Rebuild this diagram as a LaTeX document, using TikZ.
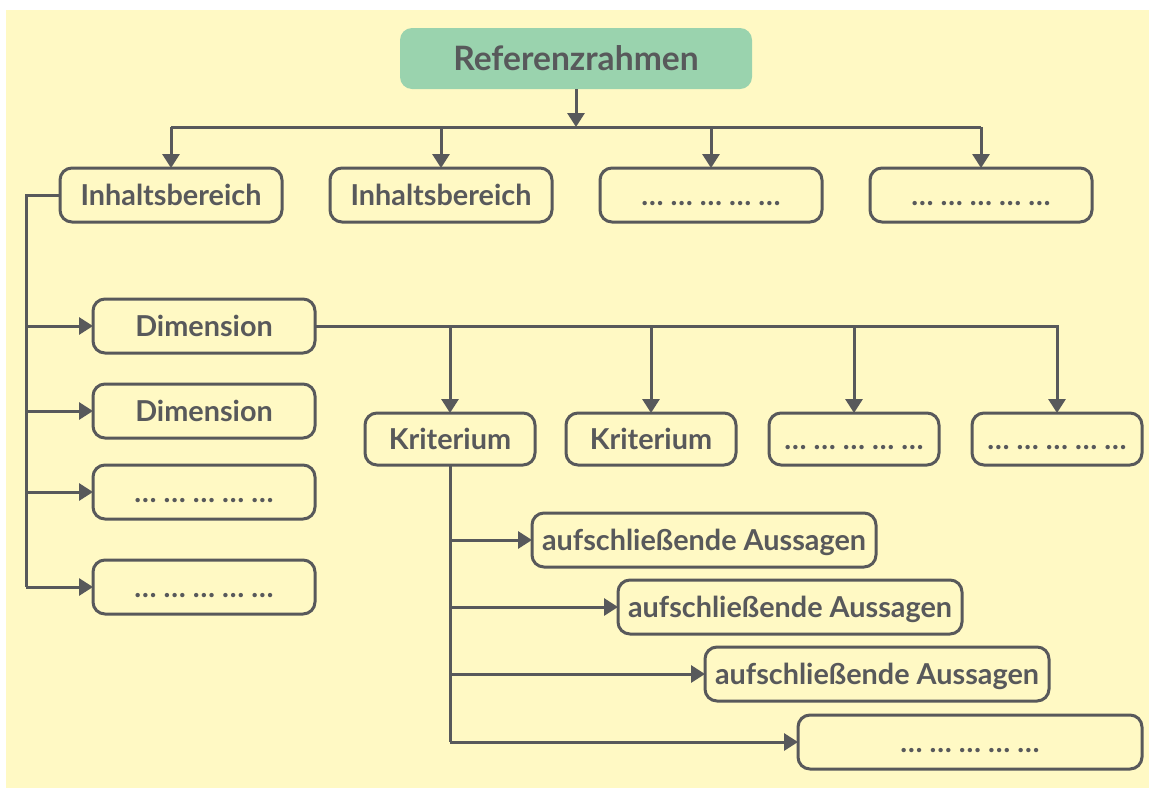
\documentclass[tikz,border=0pt]{standalone}
\usepackage{fontspec}
\setmainfont{Lato}
\usetikzlibrary{arrows.meta}
\definecolor{inkgray}{HTML}{58595B}
\definecolor{paper}{HTML}{FFF9C4}
\definecolor{rootgreen}{HTML}{9AD3AE}
\begin{document}
\begin{tikzpicture}[x=0.5pt,y=-0.5pt,inner sep=0pt,outer sep=0pt,line width=1.5pt,draw=inkgray,
rootbox/.style={rectangle,rounded corners=6pt,fill=rootgreen,text=inkgray,minimum width=176pt,minimum height=30.5pt,font=\fontsize{16.8}{20}\selectfont\bfseries},
itembox/.style={draw=inkgray,rectangle,rounded corners=6pt,text=inkgray,minimum height=27pt,text height=10pt,text depth=0pt,font=\fontsize{14.4}{17}\selectfont\bfseries},
arr/.style={-{Triangle[length=7pt,width=8.5pt]},draw=inkgray}]
\useasboundingbox (0,0) rectangle (1149,788);
\fill[paper] (6,10) rectangle (1149,788);
\node[rootbox] (root) at (576,58.5) {Referenzrahmen};
\node[itembox,minimum width=111pt] (ib1) at (171,195) {Inhaltsbereich};
\node[itembox,minimum width=111pt] (ib2) at (441,195) {Inhaltsbereich};
\node[itembox,minimum width=111pt] (ib3) at (711,195) {… … … … …};
\node[itembox,minimum width=111pt] (ib4) at (981,195) {… … … … …};
\node[itembox,minimum width=111pt] (dim1) at (204,326) {Dimension};
\node[itembox,minimum width=111pt] (dim2) at (204,411) {Dimension};
\node[itembox,minimum width=111pt] (dim3) at (204,492) {… … … … …};
\node[itembox,minimum width=111pt] (dim4) at (204,587) {… … … … …};
\node[itembox,minimum width=85pt,minimum height=26pt] (kr1) at (450,439) {Kriterium};
\node[itembox,minimum width=85pt,minimum height=26pt] (kr2) at (651,439) {Kriterium};
\node[itembox,minimum width=85pt,minimum height=26pt] (kr3) at (854,439) {… … … … …};
\node[itembox,minimum width=85pt,minimum height=26pt] (kr4) at (1057,439) {… … … … …};
\node[itembox,minimum width=172pt] (au1) at (704,540) {aufschließende Aussagen};
\node[itembox,minimum width=172pt] (au2) at (790,607) {aufschließende Aussagen};
\node[itembox,minimum width=172pt] (au3) at (877,674) {aufschließende Aussagen};
\node[itembox,minimum width=172pt] (au4) at (970,742) {… … … … …};
% obere Ebene
\coordinate (bus) at (576,127);
\draw[arr] (root) -- (bus);
\draw (ib1 |- bus) -- (ib4 |- bus);
\foreach \n in {ib1,ib2,ib3,ib4} \draw[arr] (\n |- bus) -- (\n);
% Dimensionen
\coordinate (trunk) at (26,195);
\draw (ib1) -- (trunk) -- (trunk |- dim4);
\foreach \n in {dim1,dim2,dim3,dim4} \draw[arr] (trunk |- \n) -- (\n);
% Kriterien
\draw[arr] (dim1) -| (kr4);
\foreach \n in {kr1,kr2,kr3} \draw[arr] (\n |- dim1) -- (\n);
% Aussagen
\draw (kr1) -- (kr1 |- au4);
\foreach \n in {au1,au2,au3,au4} \draw[arr] (kr1 |- \n) -- (\n);
\end{tikzpicture}
\end{document}
